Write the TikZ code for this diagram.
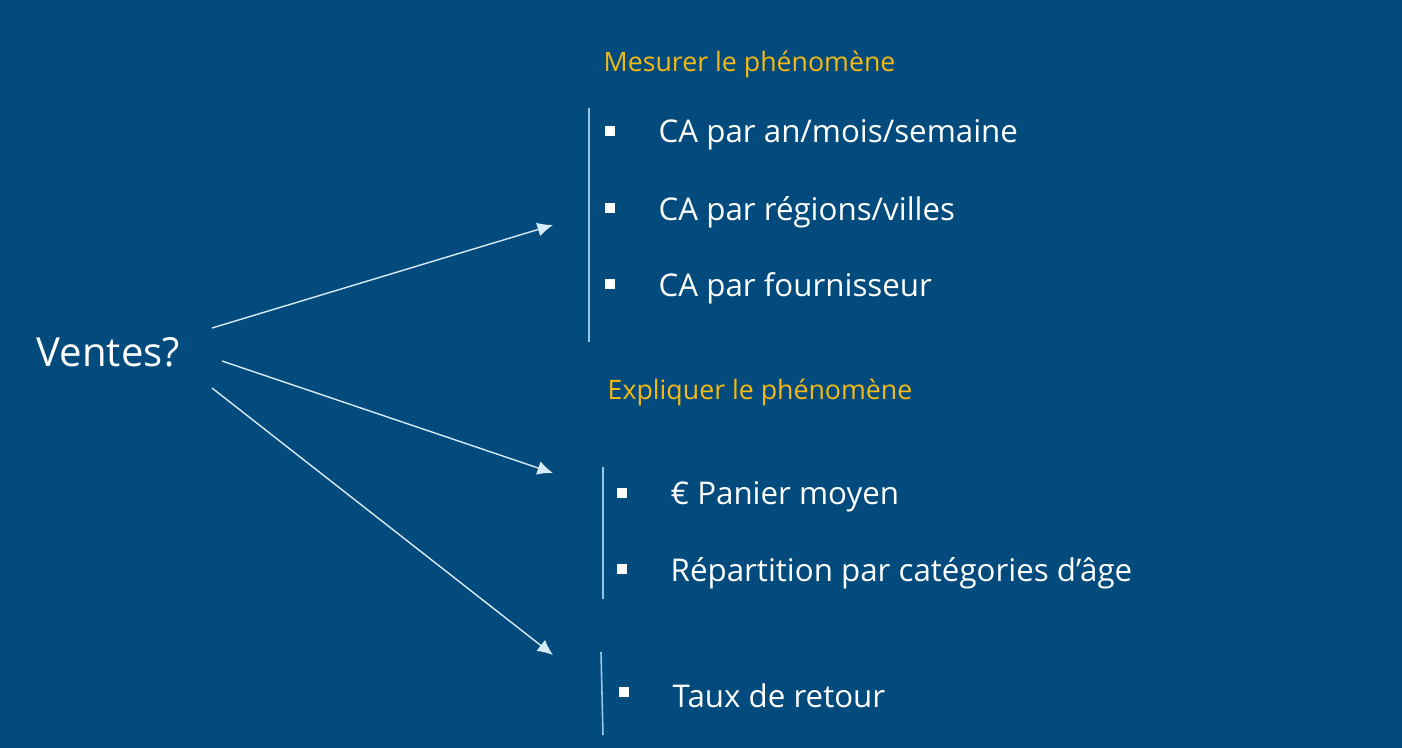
\documentclass[tikz,border=0pt]{standalone}
\usepackage{fontspec}
\setmainfont{Open Sans}
\usetikzlibrary{arrows.meta,positioning,calc}
\definecolor{bgblue}{RGB}{3,75,125}
\definecolor{headyellow}{RGB}{245,185,20}
\definecolor{barblue}{RGB}{150,200,235}
\definecolor{arrowwhite}{RGB}{215,235,248}

\begin{document}
\begin{tikzpicture}[x=0.01cm,y=-0.01cm,
  every node/.style={font=\fontsize{8.9}{11}\selectfont,text=white,inner sep=0pt},
  head/.style={anchor=west,text=headyellow,font=\fontsize{7.6}{9}\selectfont},
  item/.style={anchor=west},
  bul/.style={fill=white,minimum size=2.7pt,inner sep=0pt},
  bar/.style={draw=barblue,line width=0.45pt},
  ar/.style={-{Latex[length=4.4pt,width=4pt]},draw=arrowwhite,line width=0.4pt}]
\fill[bgblue] (0,0) rectangle (1402,748);
\useasboundingbox (0,0) rectangle (1402,748);
% left
\node[anchor=west,font=\fontsize{11.4}{13}\selectfont] (ventes) at (36,352) {Ventes?};
\coordinate (o1) at (212,328); \coordinate (o2) at (222,361); \coordinate (o3) at (212,388);
\coordinate (t1) at (553,225); \coordinate (t2) at (553,473); \coordinate (t3) at (553,655);
\draw[ar] (o1) -- (t1); \draw[ar] (o2) -- (t2); \draw[ar] (o3) -- (t3);
% mesurer
\node[head] (h1) at (603,64) {Mesurer le phénomène};
\coordinate (b1a) at (589,108); \coordinate (b1b) at (589,342);
\draw[bar] (b1a) -- (b1b);
\node[bul] (u1) at (610,131) {}; \node[item] (i1) at (658,135) {CA par an/mois/semaine};
\node[bul] (u2) at (610,208) {}; \node[item] (i2) at (658,212) {CA par régions/villes};
\node[bul] (u3) at (610,284) {}; \node[item] (i3) at (658,288) {CA par fournisseur};
% expliquer
\node[head] (h2) at (607,392) {Expliquer le phénomène};
\coordinate (b2a) at (603,467); \coordinate (b2b) at (603,599);
\draw[bar] (b2a) -- (b2b);
\node[bul] (u4) at (622,493) {}; \node[item] (i4) at (670,497) {€ Panier moyen};
\node[bul] (u5) at (622,569) {}; \node[item] (i5) at (670,573) {Répartition par catégories d’âge};
% retour
\coordinate (b3a) at (601,652); \coordinate (b3b) at (603,735);
\draw[bar] (b3a) -- (b3b);
\node[bul] (u6) at (624,692) {}; \node[item] (i6) at (672,696) {Taux de retour};
\end{tikzpicture}
\end{document}
